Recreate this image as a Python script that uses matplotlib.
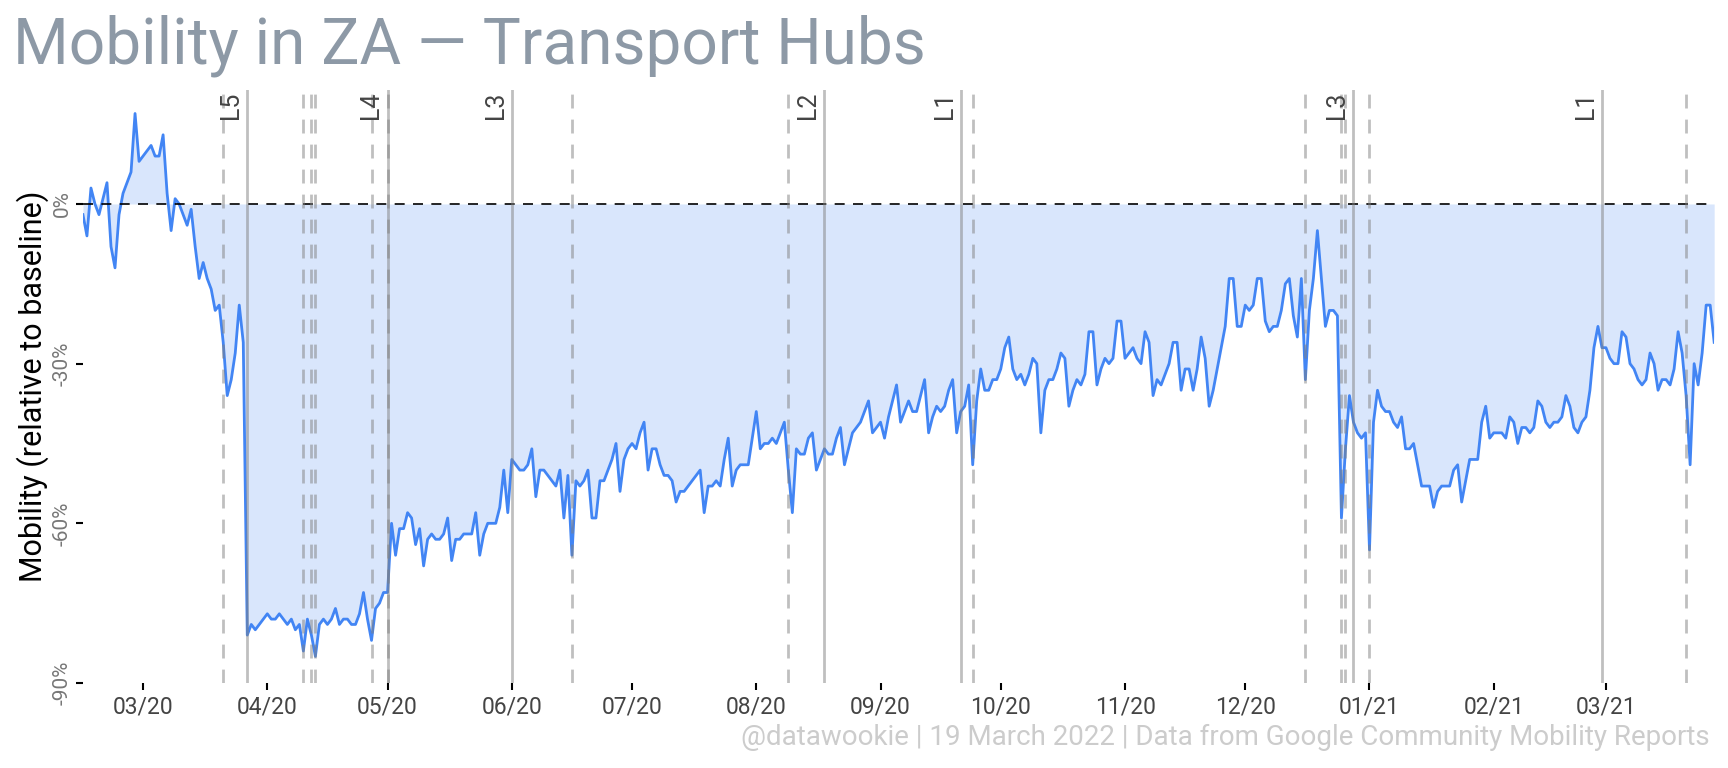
import pandas as pd
import matplotlib
matplotlib.use("Agg")
import matplotlib.pyplot as plt
import matplotlib.dates as mdates

plt.rcParams['font.family'] = ['Roboto', 'DejaVu Sans']

# daily transit station mobility (% change from baseline), starting 15 Feb 2020
start_date = "2020-02-15"

feb_20 = [-2, -6, 3, 0, -2, 1, 4, -8, -12, -2, 2, 4, 6, 17, 8]
mar_20 = [9, 10, 11, 9, 9, 13, 2, -5, 1, 0, -2, -4, -1, -8, -14, -11, -14, -16, -20, -19,
          -26, -36, -33, -28, -19, -26, -81, -79, -80, -79, -78]
apr_20 = [-77, -78, -78, -77, -78, -79, -78, -80, -79, -84, -78, -81, -85, -79, -78,
          -79, -78, -76, -79, -78, -78, -79, -79, -77, -73, -78, -82, -76, -75, -73]
may_20 = [-73, -60, -66, -61, -61, -58, -59, -64, -61, -68, -63, -62, -63, -63, -62, -59,
          -67, -63, -63, -62, -62, -62, -58, -66, -62, -60, -60, -60, -57, -50, -58]
jun_20 = [-48, -49, -50, -50, -49, -46, -55, -50, -50, -51, -52, -53, -50, -59, -51,
          -66, -52, -53, -52, -50, -59, -59, -52, -52, -50, -48, -45, -54, -48, -46]
jul_20 = [-45, -46, -43, -41, -50, -46, -46, -49, -51, -51, -52, -56, -54, -54, -53, -52,
          -51, -50, -58, -53, -53, -52, -53, -48, -44, -53, -50, -49, -49, -49, -44]
aug_20 = [-39, -46, -45, -45, -44, -45, -43, -41, -50, -58, -46, -47, -47, -44, -43, -50,
          -48, -46, -47, -47, -44, -42, -49, -46, -43, -42, -41, -39, -37, -43, -42]
sep_20 = [-41, -44, -40, -37, -34, -41, -39, -37, -39, -39, -36, -33, -43, -40, -38,
          -39, -38, -35, -33, -43, -39, -38, -34, -49, -37, -31, -35, -35, -33, -33]
oct_20 = [-31, -27, -25, -31, -33, -32, -34, -32, -29, -30, -43, -35, -33, -33, -31, -28,
          -29, -38, -35, -33, -34, -32, -24, -24, -34, -31, -29, -30, -29, -22, -22]
nov_20 = [-29, -28, -27, -29, -30, -24, -26, -36, -33, -34, -32, -30, -26, -26, -35,
          -31, -31, -35, -31, -25, -29, -38, -35, -31, -27, -23, -14, -14, -23, -23]
dec_20 = [-19, -20, -19, -14, -14, -22, -24, -23, -23, -20, -15, -14, -21, -25, -14, -33,
          -20, -14, -5, -14, -23, -20, -20, -21, -59, -46, -36, -41, -43, -44, -43]
jan_21 = [-65, -41, -35, -38, -39, -39, -41, -42, -40, -46, -46, -45, -49, -53, -53, -53,
          -57, -54, -53, -53, -53, -50, -49, -56, -52, -48, -48, -48, -41, -38, -44]
feb_21 = [-43, -43, -43, -44, -40, -41, -45, -42, -42, -43, -42, -37, -38, -41,
          -42, -41, -41, -40, -36, -38, -42, -43, -41, -40, -35, -27, -23, -27]
mar_21 = [-27, -29, -30, -30, -24, -25, -30, -31, -33, -34, -33, -28, -30, -35,
          -33, -33, -34, -31, -24, -28, -36, -49, -30, -34, -28, -19, -19, -26]

mobility = (feb_20 + mar_20 + apr_20 + may_20 + jun_20 + jul_20 + aug_20 + sep_20
            + oct_20 + nov_20 + dec_20 + jan_21 + feb_21 + mar_21)

# lockdown level changes
lockdown_dates = ["2020-03-27", "2020-05-01", "2020-06-01", "2020-08-18",
                  "2020-09-21", "2020-12-28", "2021-02-28"]
lockdown_labels = ["L5", "L4", "L3", "L2", "L1", "L3", "L1"]

# public holidays
holiday_dates = ["2020-03-21", "2020-04-10", "2020-04-12", "2020-04-13", "2020-04-27",
                 "2020-05-01", "2020-06-16", "2020-08-09", "2020-09-24", "2020-12-16",
                 "2020-12-25", "2020-12-26", "2021-01-01", "2021-03-21"]

dates = pd.date_range(start_date, periods=len(mobility), freq="D")

fig = plt.figure(figsize=(17.28, 7.68), dpi=100)
ax = fig.add_axes([0.048, 0.1107, 0.944, 0.772])

ax.fill_between(dates, mobility, 0, color="#4285F4", alpha=0.2, linewidth=0)
ax.plot(dates, mobility, color="#4285F4", lw=2.0)
ax.axhline(0, color="black", lw=1.2, ls=(0, (6, 5)))

for d in holiday_dates:
    ax.axvline(pd.Timestamp(d), color="grey", alpha=0.5, lw=2.0, ls=(0, (5, 4)))

for d, lab in zip(lockdown_dates, lockdown_labels):
    ax.axvline(pd.Timestamp(d), color="grey", alpha=0.5, lw=2.0)
    ax.annotate(lab, xy=(pd.Timestamp(d), 1), xycoords=("data", "axes fraction"),
                xytext=(-3, -1), textcoords="offset points", rotation=90,
                ha="right", va="top", fontsize=18, color="#444444")

ax.set_xlim(dates[0], dates[-1])
ax.set_ylim(-90, 21.4)

ax.set_yticks([-90, -60, -30, 0])
ax.set_yticklabels(["-90%", "-60%", "-30%", "0%"])
ax.tick_params(axis="y", labelrotation=90, labelsize=15, labelcolor="#777777",
               length=5, width=1.5, pad=3)
for lbl in ax.get_yticklabels():
    lbl.set_va("center")

ax.xaxis.set_major_locator(mdates.MonthLocator())
ax.xaxis.set_major_formatter(mdates.DateFormatter("%m/%y"))
ax.tick_params(axis="x", labelsize=16.5, labelcolor="#444444", length=5, width=1.5, pad=4)

for s in ax.spines.values():
    s.set_visible(False)

fig.text(0.0075, 0.917, "Mobility in ZA \u2014 Transport Hubs", fontsize=46,
         color="#8d99a6", va="baseline", ha="left")
fig.text(0.019, 0.497, "Mobility (relative to baseline)", fontsize=22, rotation=90,
         ha="center", va="center", color="black")
fig.text(0.9896, 0.03, "@datawookie | 19 March 2022 | Data from Google Community Mobility Reports",
         fontsize=20, color="#cccccc", ha="right", va="baseline")

fig.savefig("out.png", dpi=100)
